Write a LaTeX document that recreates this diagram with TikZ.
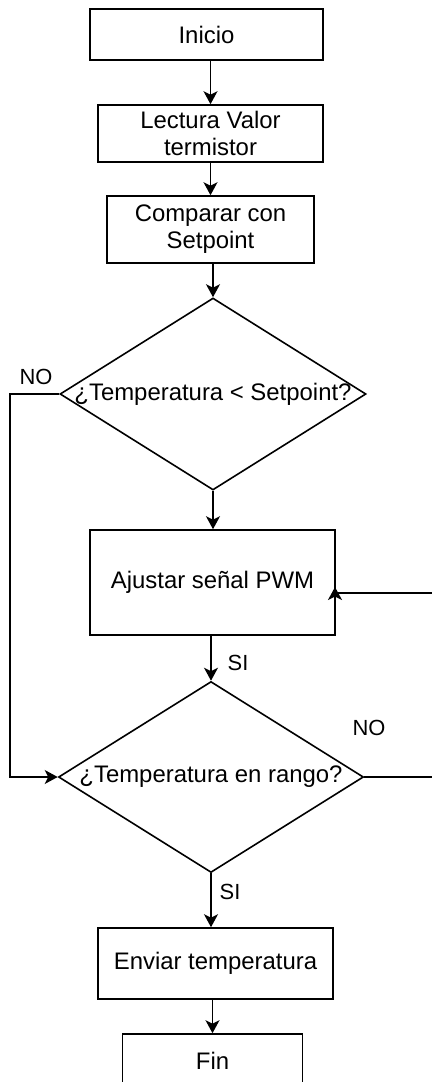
\documentclass[tikz,border=0pt]{standalone}
\usepackage{fontspec}
\setmainfont{Liberation Sans}
\usetikzlibrary{shapes.geometric,arrows.meta}
\begin{document}
\begin{tikzpicture}[x=1bp,y=-1bp,
  line width=1.6bp,
  every node/.style={font=\fontsize{24}{27}\selectfont},
  proc/.style={draw, rectangle, inner sep=0pt, align=center},
  decision/.style={draw, diamond, inner sep=0pt, aspect=1.6},
  lbl/.style={font=\fontsize{22}{24}\selectfont, inner sep=0pt},
  arr/.style={-{Stealth[length=13bp,width=14bp,inset=3.5bp]}}
]
\useasboundingbox (0,0) rectangle (431,1082);

% process boxes and decisions
\node[proc, minimum width=233bp, minimum height=51bp] (inicio) at (206.5,34.5) {Inicio};
\node[proc, minimum width=225bp, minimum height=57bp] (lect) at (210.5,133.5) {Lectura Valor\\termistor};
\node[proc, minimum width=207bp, minimum height=67bp] (comp) at (210.5,229.5) {Comparar con\\Setpoint};
\node[decision, minimum width=306bp, minimum height=192bp] (d1) at (213,394)
  {\makebox[0pt]{¿Temperatura < Setpoint?}};
\node[proc, minimum width=245bp, minimum height=105bp] (aj) at (212.5,582.5) {Ajustar señal PWM};
\node[decision, minimum width=305bp, minimum height=191bp] (d2) at (211,777)
  {\makebox[0pt]{¿Temperatura en rango?}};
\node[proc, minimum width=235bp, minimum height=71bp] (env) at (215.5,963.5) {Enviar temperatura};
\node[proc, minimum width=180bp, minimum height=54bp] (fin) at (212.5,1061) {Fin};

% main flow
\draw[arr] (lect.north |- inicio.south) -- (lect.north);
\draw[arr] (comp.north |- lect.south) -- (comp.north);
\draw[arr] (d1.north |- comp.south) -- (d1.north);
\draw[arr] (d1.south) -- (d1.south |- aj.north);
\draw[arr] (d2.north |- aj.south) -- (d2.north);
\draw[arr] (d2.south) -- (d2.south |- env.north);
\draw[arr] (fin.north |- env.south) -- (fin.north);

% NO branch of the first decision
\coordinate (ltop) at (10,394);
\coordinate (lbot) at (10,777);
\draw[arr] (d1.west) -- (ltop) -- (lbot) -- (d2.west);

% NO branch of the second decision back to the PWM box
\coordinate (rbot) at (440,777);
\coordinate (rtop) at (440,593);
\coordinate (back) at (335,593);
\coordinate (backtip) at (335,587);
\draw[arr] (d2.east) -- (rbot) -- (rtop) -- (back) -- (backtip);

% branch labels
\node[lbl] (no1) at (36,377) {NO};
\node[lbl] (si1) at (238,663) {SI};
\node[lbl] (no2) at (369,728) {NO};
\node[lbl] (si2) at (230,892) {SI};
\end{tikzpicture}
\end{document}
